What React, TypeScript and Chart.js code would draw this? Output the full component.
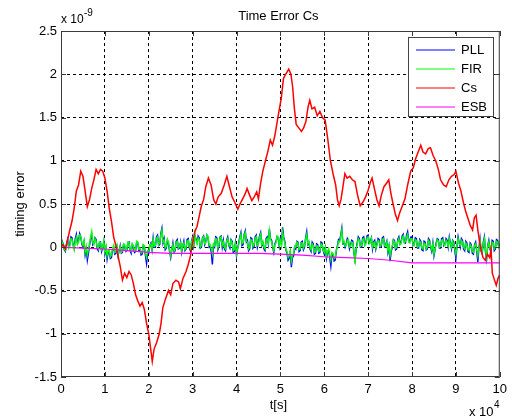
import React, { useEffect, useRef } from 'react';
import { Chart, registerables } from 'chart.js';

Chart.register(...registerables);

const FONT = "'Liberation Sans', Arial, Helvetica, sans-serif";

const xTicks = [0, 1, 2, 3, 4, 5, 6, 7, 8, 9, 10];
const yTicks = [-1.5, -1, -0.5, 0, 0.5, 1, 1.5, 2, 2.5];
const seriesNames = ['PLL', 'FIR', 'Cs', 'ESB'];
const seriesColors = ['#0000ff', '#00ff00', '#ff0000', '#ff00ff'];

// PLL and FIR sampled every 0.025 (x 10^4 s)
const pllValues = [
  0.01, 0.07, 0.03, -0.03, -0.05, 0.04, 0.09, 0.0, 0.03, 0.12, 0.11, 0.03, -0.01, 0.1, 0.15, 0.05, 0.08, 0.16, 0.12, 0.04,
  0.0, 0.06, -0.09, -0.02, -0.15, -0.07, 0.02, 0.1, 0.14, 0.03, 0.05, 0.11, 0.09, -0.02, -0.04, 0.05, 0.06, -0.05, -0.01, 0.06,
  -0.08, -0.01, -0.14, -0.06, -0.05, -0.13, -0.12, -0.03, 0.0, -0.08, -0.07, 0.0, -0.1, -0.04, 0.02, -0.07, -0.06, 0.03, 0.01, -0.05,
  -0.04, 0.05, 0.06, -0.04, -0.07, 0.03, 0.0, -0.06, -0.05, 0.06, 0.05, -0.04, -0.03, -0.09, -0.08, 0.02, 0.0, -0.1, -0.19, -0.06,
  -0.07, 0.02, 0.05, -0.03, 0.11, 0.0, 0.0, 0.12, 0.14, 0.02, 0.03, 0.16, 0.22, 0.05, 0.1, -0.03, -0.01, 0.08, 0.04, -0.05,
  -0.12, -0.03, 0.05, -0.06, -0.04, 0.07, 0.09, -0.02, -0.01, 0.06, -0.06, 0.01, 0.07, -0.04, -0.02, 0.09, 0.1, -0.01, -0.04, 0.07,
  0.12, 0.02, 0.14, 0.1, 0.06, 0.13, 0.11, -0.01, 0.0, 0.11, 0.13, 0.03, 0.07, 0.14, 0.11, 0.0, 0.01, -0.06, -0.2, 0.02,
  0.0, 0.12, 0.11, -0.03, 0.01, 0.12, 0.13, 0.0, 0.08, -0.02, -0.04, 0.08, 0.12, 0.02, -0.01, 0.09, 0.07, -0.06, -0.05, 0.05,
  -0.1, -0.02, 0.05, 0.12, 0.17, 0.02, 0.03, 0.15, 0.19, 0.06, 0.08, -0.04, -0.02, 0.11, 0.1, -0.01, 0.01, 0.12, 0.14, 0.0,
  0.06, 0.13, 0.17, 0.02, 0.05, -0.02, -0.04, 0.1, 0.12, 0.04, 0.21, 0.1, 0.08, 0.0, -0.06, 0.04, 0.07, 0.12, 0.1, 0.01,
  0.1, 0.04, 0.23, 0.12, 0.07, -0.03, -0.07, -0.15, -0.13, -0.06, -0.23, -0.12, -0.1, 0.0, -0.02, 0.07, 0.06, -0.05, -0.04, 0.06,
  0.07, -0.03, 0.0, 0.11, 0.18, 0.03, 0.05, -0.02, -0.05, 0.06, 0.04, -0.08, -0.07, 0.04, 0.03, -0.07, -0.06, 0.06, 0.05, -0.04,
  -0.08, -0.01, -0.13, -0.06, -0.04, -0.12, -0.22, -0.08, -0.09, -0.16, -0.15, -0.04, 0.02, 0.09, 0.08, 0.14, 0.22, 0.04, 0.05, 0.0,
  0.04, 0.1, 0.07, -0.02, 0.03, 0.08, 0.07, -0.06, -0.15, -0.03, 0.05, 0.12, 0.1, 0.0, 0.0, 0.11, 0.12, 0.03, 0.06, 0.13,
  0.14, 0.05, 0.07, 0.11, -0.02, 0.06, 0.08, -0.02, 0.04, 0.1, 0.09, 0.0, 0.01, 0.11, 0.12, 0.01, 0.03, 0.07, -0.06, 0.01,
  -0.16, -0.05, 0.0, 0.09, 0.08, -0.03, -0.02, 0.09, 0.12, 0.04, 0.06, 0.13, 0.15, 0.06, 0.05, 0.14, 0.18, 0.07, 0.07, 0.12,
  0.12, 0.02, 0.04, 0.11, 0.1, -0.01, -0.01, 0.09, 0.07, -0.03, -0.04, 0.07, 0.06, -0.03, -0.02, 0.1, 0.08, 0.0, -0.05, 0.05,
  -0.1, -0.03, 0.05, 0.1, 0.09, -0.01, -0.01, 0.1, 0.11, 0.02, 0.04, 0.1, 0.08, 0.0, 0.12, 0.05, -0.02, 0.08, 0.06, -0.04,
  -0.13, 0.01, 0.12, 0.05, 0.0, 0.1, 0.08, -0.02, -0.04, 0.07, 0.05, -0.05, -0.06, 0.05, 0.03, -0.07, -0.08, 0.03, 0.06, -0.05,
  -0.17, -0.01, 0.1, -0.04, -0.07, 0.06, 0.12, -0.06, -0.14, 0.02, 0.08, -0.02, -0.05, 0.08, 0.07, -0.04, -0.02, 0.09, 0.08, 0.01,
  0.04,
];

const firValues = [
  0.0, 0.06, 0.05, -0.02, -0.04, 0.03, 0.07, -0.01, 0.01, 0.1, 0.09, 0.02, -0.03, 0.08, 0.12, 0.03, 0.06, 0.14, 0.13, 0.05,
  0.02, 0.08, -0.06, 0.01, -0.09, -0.03, 0.04, 0.12, 0.18, 0.05, 0.03, 0.1, 0.07, 0.0, -0.02, 0.06, 0.05, -0.03, 0.0, 0.07,
  -0.06, 0.01, -0.1, -0.04, -0.03, -0.11, -0.09, -0.02, 0.02, -0.06, -0.05, 0.02, -0.08, -0.03, 0.01, -0.06, -0.04, 0.04, 0.03, -0.04,
  -0.02, 0.06, 0.05, -0.03, -0.05, 0.04, 0.02, -0.04, -0.03, 0.07, 0.06, -0.02, -0.01, -0.07, -0.06, 0.03, 0.02, -0.08, -0.12, -0.04,
  -0.05, 0.03, 0.04, -0.02, 0.09, 0.01, 0.02, 0.1, 0.12, 0.03, 0.05, 0.14, 0.2, 0.06, 0.08, -0.01, 0.01, 0.09, 0.06, -0.03,
  -0.1, -0.02, 0.03, -0.05, -0.02, 0.06, 0.07, -0.01, 0.01, 0.05, -0.04, 0.02, 0.05, -0.03, 0.0, 0.07, 0.08, 0.0, -0.02, 0.06,
  0.1, 0.03, 0.16, 0.08, 0.04, 0.11, 0.09, 0.0, 0.02, 0.1, 0.12, 0.04, 0.05, 0.14, 0.13, 0.02, 0.03, -0.02, -0.08, 0.04,
  0.02, 0.1, 0.09, -0.01, 0.03, 0.11, 0.12, 0.02, 0.06, 0.0, -0.02, 0.07, 0.1, 0.03, 0.01, 0.08, 0.05, -0.04, -0.03, 0.04,
  -0.08, -0.01, 0.03, 0.1, 0.15, 0.04, 0.05, 0.13, 0.17, 0.07, 0.06, -0.02, 0.0, 0.09, 0.08, 0.01, 0.03, 0.1, 0.12, 0.02,
  0.04, 0.11, 0.15, 0.03, 0.07, 0.0, -0.02, 0.08, 0.1, 0.05, 0.19, 0.09, 0.06, 0.01, -0.04, 0.03, 0.05, 0.13, 0.12, 0.02,
  0.08, 0.02, 0.18, 0.1, 0.05, -0.02, -0.05, -0.12, -0.1, -0.04, -0.16, -0.09, -0.08, 0.01, 0.0, 0.06, 0.04, -0.03, -0.02, 0.05,
  0.05, -0.01, 0.02, 0.09, 0.15, 0.04, 0.07, 0.0, -0.03, 0.04, 0.02, -0.06, -0.05, 0.02, 0.01, -0.05, -0.04, 0.04, 0.03, -0.03,
  -0.06, 0.0, -0.1, -0.05, -0.02, -0.09, -0.15, -0.06, -0.07, -0.13, -0.12, -0.03, 0.0, 0.07, 0.06, 0.12, 0.2, 0.05, 0.07, 0.01,
  0.02, 0.08, 0.09, 0.0, 0.01, 0.06, 0.05, -0.05, -0.19, -0.02, 0.03, 0.1, 0.08, 0.01, 0.02, 0.09, 0.1, 0.02, 0.04, 0.11,
  0.12, 0.04, 0.05, 0.1, 0.0, 0.05, 0.06, -0.01, 0.02, 0.08, 0.07, 0.01, 0.03, 0.09, 0.1, 0.02, 0.01, 0.06, -0.04, 0.02,
  -0.1, -0.03, 0.02, 0.08, 0.06, -0.01, 0.0, 0.07, 0.1, 0.03, 0.04, 0.11, 0.13, 0.05, 0.07, 0.12, 0.15, 0.06, 0.05, 0.1,
  0.1, 0.03, 0.02, 0.09, 0.08, 0.0, 0.01, 0.07, 0.05, -0.01, -0.02, 0.05, 0.04, -0.02, 0.0, 0.08, 0.06, 0.01, -0.03, 0.04,
  -0.08, -0.02, 0.03, 0.09, 0.07, 0.0, 0.01, 0.08, 0.09, 0.03, 0.02, 0.08, 0.06, 0.01, 0.1, 0.04, 0.0, 0.07, 0.04, -0.02,
  -0.08, 0.02, 0.1, 0.04, 0.02, 0.08, 0.06, 0.0, -0.02, 0.05, 0.03, -0.03, -0.04, 0.03, 0.01, -0.05, -0.06, 0.02, 0.04, -0.03,
  -0.1, 0.0, 0.08, -0.02, -0.05, 0.04, 0.1, -0.04, -0.12, 0.01, 0.06, -0.01, -0.03, 0.06, 0.05, -0.02, 0.0, 0.07, 0.06, 0.0,
  0.02,
];

const csTimes = [
  0, 0.05, 0.1, 0.15, 0.2, 0.25, 0.3, 0.35, 0.4, 0.45, 0.5, 0.55, 0.6, 0.65, 0.7, 0.75, 0.8, 0.85, 0.9, 0.95,
  1.0, 1.05, 1.1, 1.15, 1.2, 1.25, 1.3, 1.35, 1.4, 1.45, 1.5, 1.55, 1.6, 1.65, 1.7, 1.75, 1.8, 1.85, 1.9, 1.95,
  2.0, 2.05, 2.08, 2.12, 2.18, 2.24, 2.28, 2.32, 2.38, 2.45, 2.5, 2.55, 2.62, 2.68, 2.72, 2.78, 2.85, 2.9, 2.95,
  3.0, 3.05, 3.1, 3.15, 3.2, 3.25, 3.3, 3.36, 3.42, 3.48, 3.53, 3.58, 3.65, 3.72, 3.78, 3.84, 3.9, 3.96,
  4.03, 4.08, 4.14, 4.2, 4.24, 4.3, 4.35, 4.4, 4.46, 4.5, 4.55, 4.6, 4.66, 4.72, 4.77, 4.82, 4.87, 4.92, 4.97,
  5.02, 5.07, 5.12, 5.19, 5.24, 5.28, 5.32, 5.36, 5.42, 5.48, 5.53, 5.58, 5.63, 5.67, 5.72, 5.78, 5.84, 5.9, 5.96,
  6.02, 6.08, 6.14, 6.2, 6.26, 6.3, 6.34, 6.38, 6.42, 6.47, 6.52, 6.58, 6.64, 6.7, 6.76, 6.82, 6.88, 6.94,
  7.0, 7.05, 7.09, 7.15, 7.2, 7.25, 7.3, 7.36, 7.42, 7.47, 7.52, 7.56, 7.62, 7.67, 7.72, 7.78, 7.84, 7.9, 7.97,
  8.03, 8.08, 8.14, 8.2, 8.25, 8.31, 8.37, 8.42, 8.48, 8.54, 8.6, 8.65, 8.72, 8.78, 8.84, 8.9, 8.96,
  9.0, 9.06, 9.11, 9.17, 9.22, 9.27, 9.33, 9.38, 9.42, 9.46, 9.5, 9.54, 9.58, 9.62, 9.67, 9.72, 9.77, 9.8,
  9.83, 9.88, 9.92, 9.96, 10.0,
];

const csValues = [
  0, 0.03, -0.02, 0.08, 0.2, 0.3, 0.45, 0.65, 0.72, 0.88, 0.82, 0.65, 0.47, 0.55, 0.68, 0.78, 0.9, 0.85, 0.9, 0.88,
  0.8, 0.65, 0.45, 0.3, 0.12, 0.02, -0.1, -0.22, -0.38, -0.3, -0.35, -0.28, -0.32, -0.42, -0.55, -0.62, -0.68, -0.64, -0.72, -0.88,
  -1.0, -1.2, -1.32, -1.18, -1.1, -1.0, -0.88, -0.7, -0.6, -0.5, -0.55, -0.42, -0.38, -0.4, -0.48, -0.36, -0.28, -0.2, -0.1,
  0.05, 0.18, 0.24, 0.36, 0.48, 0.55, 0.7, 0.8, 0.72, 0.55, 0.5, 0.58, 0.62, 0.72, 0.82, 0.7, 0.58, 0.52,
  0.44, 0.5, 0.56, 0.62, 0.68, 0.6, 0.54, 0.58, 0.64, 0.56, 0.74, 0.88, 1.0, 1.12, 1.24, 1.18, 1.28, 1.43, 1.58,
  1.72, 1.95, 2.0, 2.06, 2.0, 1.85, 1.6, 1.42, 1.38, 1.34, 1.38, 1.45, 1.62, 1.7, 1.6, 1.62, 1.52, 1.57, 1.5,
  1.47, 1.25, 1.0, 0.85, 0.72, 0.55, 0.48, 0.55, 0.68, 0.85, 0.8, 0.82, 0.78, 0.76, 0.6, 0.48, 0.52, 0.58,
  0.66, 0.75, 0.8, 0.66, 0.55, 0.48, 0.6, 0.7, 0.74, 0.78, 0.62, 0.52, 0.38, 0.31, 0.4, 0.48, 0.56, 0.72, 0.88,
  0.92, 1.02, 1.1, 1.18, 1.1, 1.08, 1.14, 1.15, 1.06, 1.0, 0.9, 0.78, 0.72, 0.7, 0.78, 0.82, 0.84,
  0.88, 0.74, 0.66, 0.52, 0.42, 0.34, 0.25, 0.2, 0.34, 0.37, 0.2, 0.06, -0.05, -0.12, -0.15, -0.08, -0.12, -0.02,
  -0.3, -0.38, -0.44, -0.36, -0.32,
];

const esbTimes = [0, 0.5, 1, 1.5, 2, 2.5, 3, 3.5, 4, 4.5, 5, 5.5, 6, 6.5, 7, 7.5, 8, 8.5, 9, 9.5, 10];
const esbValues = [0, -0.01, -0.02, -0.04, -0.06, -0.07, -0.07, -0.07, -0.07, -0.07, -0.08, -0.09, -0.11, -0.12, -0.13, -0.15, -0.18, -0.18, -0.18, -0.18, -0.18];

const noiseTimes = pllValues.map((_, i) => Math.round(i * 25) / 1000);

const overlay = {
  id: 'overlay',
  afterDraw(chart: any) {
    const { ctx, chartArea: a } = chart;
    const xs = chart.scales.x;
    const ys = chart.scales.y;
    ctx.save();
    // axes box
    ctx.strokeStyle = '#3a3a3a';
    ctx.lineWidth = 1;
    ctx.strokeRect(a.left + 0.5, a.top + 0.5, a.right - a.left - 1, a.bottom - a.top - 1);
    // inner tick marks
    ctx.beginPath();
    xTicks.forEach((v) => {
      const px = Math.round(xs.getPixelForValue(v)) + 0.5;
      ctx.moveTo(px, a.bottom);
      ctx.lineTo(px, a.bottom - 5);
      ctx.moveTo(px, a.top);
      ctx.lineTo(px, a.top + 5);
    });
    yTicks.forEach((v) => {
      const py = Math.round(ys.getPixelForValue(v)) + 0.5;
      ctx.moveTo(a.left, py);
      ctx.lineTo(a.left + 5, py);
      ctx.moveTo(a.right, py);
      ctx.lineTo(a.right - 5, py);
    });
    ctx.stroke();

    ctx.fillStyle = '#000';
    ctx.font = `13px ${FONT}`;
    ctx.textBaseline = 'middle';
    ctx.textAlign = 'center';
    ctx.fillText('Time Error Cs', (a.left + a.right) / 2 - 2, 16);
    ctx.fillText('t[s]', (a.left + a.right) / 2 - 2, 405);

    // exponent labels
    ctx.textAlign = 'left';
    ctx.font = `12px ${FONT}`;
    ctx.fillText('x 10', a.left, 20);
    ctx.font = `10px ${FONT}`;
    ctx.fillText('-9', a.left + 23, 13);
    ctx.font = `13px ${FONT}`;
    ctx.fillText('x 10', 469, 412);
    ctx.font = `10px ${FONT}`;
    ctx.fillText('4', 494, 405);

    // y label
    ctx.font = `13px ${FONT}`;
    ctx.save();
    ctx.translate(20, (a.top + a.bottom) / 2);
    ctx.rotate(-Math.PI / 2);
    ctx.textAlign = 'center';
    ctx.fillText('timing error', 0, 0);
    ctx.restore();

    // legend
    const lx = 408, ly = 37, lw = 86, lh = 80;
    ctx.fillStyle = '#fff';
    ctx.fillRect(lx, ly, lw, lh);
    ctx.strokeStyle = '#444';
    ctx.lineWidth = 1;
    ctx.strokeRect(lx + 0.5, ly + 0.5, lw - 1, lh - 1);
    const rows = [50, 69, 88, 107];
    seriesNames.forEach((name, i) => {
      ctx.strokeStyle = seriesColors[i];
      ctx.lineWidth = 1.2;
      ctx.beginPath();
      ctx.moveTo(416, rows[i]);
      ctx.lineTo(455, rows[i]);
      ctx.stroke();
      ctx.fillStyle = '#000';
      ctx.textAlign = 'left';
      ctx.fillText(name, 461, rows[i]);
    });
    ctx.restore();
  },
};

export default function App() {
  const ref = useRef<HTMLCanvasElement | null>(null);

  useEffect(() => {
    if (!ref.current) return;
    const edgeGrid = (lo: number, hi: number) => (c: any) => {
      const v = c.tick ? c.tick.value : null;
      return v === lo || v === hi ? 'rgba(0,0,0,0)' : '#000';
    };
    const chart = new Chart(ref.current, {
      type: 'line',
      data: {
        datasets: [
          {
            label: seriesNames[0],
            data: noiseTimes.map((t, i) => ({ x: t, y: pllValues[i] })),
            borderColor: seriesColors[0],
            borderWidth: 1.4,
            pointRadius: 0,
            order: 4,
          },
          {
            label: seriesNames[1],
            data: noiseTimes.map((t, i) => ({ x: t, y: firValues[i] })),
            borderColor: seriesColors[1],
            borderWidth: 1.4,
            pointRadius: 0,
            order: 3,
          },
          {
            label: seriesNames[2],
            data: csTimes.map((t, i) => ({ x: t, y: csValues[i] })),
            borderColor: seriesColors[2],
            borderWidth: 1.5,
            pointRadius: 0,
            order: 2,
          },
          {
            label: seriesNames[3],
            data: esbTimes.map((t, i) => ({ x: t, y: esbValues[i] })),
            borderColor: seriesColors[3],
            borderWidth: 1.2,
            pointRadius: 0,
            order: 1,
          },
        ],
      },
      options: {
        animation: false,
        responsive: false,
        maintainAspectRatio: false,
        devicePixelRatio: 1,
        layout: { padding: { left: 0, right: 12, top: 31, bottom: 0 } },
        plugins: {
          legend: { display: false },
          title: { display: false },
          tooltip: { enabled: false },
        },
        scales: {
          x: {
            type: 'linear',
            min: 0,
            max: 10,
            afterFit: (s: any) => { s.height = 39; },
            afterBuildTicks: (s: any) => { s.ticks = xTicks.map((v) => ({ value: v })); },
            ticks: {
              autoSkip: false,
              maxRotation: 0,
              padding: 5,
              color: '#000',
              font: { family: FONT, size: 13 },
              callback: (v: any) => String(v),
            },
            grid: { color: edgeGrid(0, 10), lineWidth: 1, drawTicks: false },
            border: { display: false, dash: [3, 3] },
          },
          y: {
            type: 'linear',
            min: -1.5,
            max: 2.5,
            afterFit: (s: any) => { s.width = 61; },
            afterBuildTicks: (s: any) => { s.ticks = yTicks.map((v) => ({ value: v })); },
            ticks: {
              autoSkip: false,
              padding: 4,
              color: '#000',
              font: { family: FONT, size: 13 },
              callback: (v: any) => String(v),
            },
            grid: { color: edgeGrid(-1.5, 2.5), lineWidth: 1, drawTicks: false },
            border: { display: false, dash: [3, 3] },
          },
        },
      },
      plugins: [overlay],
    });
    return () => chart.destroy();
  }, []);

  return (
    <div style={{ position: 'fixed', left: 0, top: 0, width: 512, height: 416, background: '#fff' }}>
      <canvas ref={ref} width={512} height={416} />
    </div>
  );
}
